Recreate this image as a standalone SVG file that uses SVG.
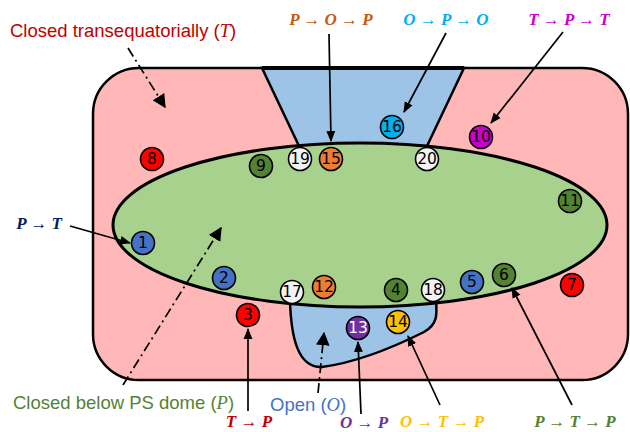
<svg xmlns="http://www.w3.org/2000/svg" width="630" height="432" viewBox="0 0 630 432">
<style>
.num{font-family:"DejaVu Sans",sans-serif;font-size:15.5px;text-anchor:middle;dominant-baseline:central;fill:#000}
.c{stroke:#000;stroke-width:1.6}
.lab{font-family:"Liberation Sans",Arial,sans-serif;font-size:18.5px}
.math{font-family:"Liberation Serif","Times New Roman",serif;font-size:17px;font-style:italic;font-weight:bold}
.mi{font-family:"Liberation Serif","Times New Roman",serif;font-style:italic}
.arr{stroke:#000;stroke-width:1.7;fill:none;marker-end:url(#ah)}
.dd{stroke:#000;stroke-width:1.7;fill:none;stroke-dasharray:10 4 2 4;marker-end:url(#ah2)}
</style>
<defs>
<marker id="ah" viewBox="0 0 10 10" refX="9" refY="5" markerWidth="6.5" markerHeight="6.5" orient="auto" markerUnits="strokeWidth">
<path d="M0,1 L10,5 L0,9 z" fill="#000"/>
</marker>
<marker id="ah2" viewBox="0 0 10 10" refX="9" refY="5" markerWidth="8" markerHeight="8" orient="auto" markerUnits="strokeWidth">
<path d="M0,0 L10,5 L0,10 z" fill="#000"/>
</marker>
</defs>
<g id="regions">
<rect id="closed-T" x="93" y="68" width="535" height="312" rx="46" ry="46" fill="#FFB7B7" stroke="#000" stroke-width="2.5"/>
<path id="open-top" d="M262,68 L464,68 L427,146 L299,146 Z" fill="#9DC3E6" stroke="#000" stroke-width="2.5"/>
<line x1="262" y1="68" x2="464" y2="68" stroke="#000" stroke-width="4"/>
<path id="open-bottom" d="M290,300 C291,338 298,368 322,367 C360,362 398,345 424,332 C438,324 437,314 436,300 Z" fill="#9DC3E6" stroke="#000" stroke-width="2.5"/>
<ellipse id="closed-P" cx="360" cy="225" rx="247" ry="82" fill="#A9D18E" stroke="#000" stroke-width="3"/>
</g>
<g id="connectors">
<line class="dd" x1="128" y1="48" x2="165" y2="107"/>
<line class="dd" x1="123" y1="385" x2="221" y2="228"/>
<line class="dd" x1="318" y1="393" x2="324" y2="333"/>
<line class="arr" x1="70" y1="226" x2="130" y2="243"/>
<line class="arr" x1="329" y1="34" x2="331" y2="141"/>
<line class="arr" x1="446" y1="33" x2="404" y2="112"/>
<line class="arr" x1="563" y1="32" x2="491" y2="123"/>
<line class="arr" x1="248" y1="411" x2="248" y2="329"/>
<line class="arr" x1="361" y1="414" x2="358" y2="342"/>
<line class="arr" x1="440" y1="405" x2="408" y2="336"/>
<line class="arr" x1="572" y1="405" x2="512" y2="288"/>
</g>
<g id="n1"><circle class="c" cx="143" cy="243" r="11.5" fill="#4472C4"/><text class="num" x="143" y="243">1</text></g>
<g id="n2"><circle class="c" cx="224" cy="278" r="11.5" fill="#4472C4"/><text class="num" x="224" y="278">2</text></g>
<g id="n3"><circle class="c" cx="248" cy="315" r="11.5" fill="#FF0000"/><text class="num" x="248" y="315">3</text></g>
<g id="n4"><circle class="c" cx="396" cy="290" r="11.5" fill="#548235"/><text class="num" x="396" y="290">4</text></g>
<g id="n5"><circle class="c" cx="472" cy="282" r="11.5" fill="#4472C4"/><text class="num" x="472" y="282">5</text></g>
<g id="n6"><circle class="c" cx="504" cy="275" r="11.5" fill="#548235"/><text class="num" x="504" y="275">6</text></g>
<g id="n7"><circle class="c" cx="572" cy="285" r="11.5" fill="#FF0000"/><text class="num" x="572" y="285">7</text></g>
<g id="n8"><circle class="c" cx="152" cy="159" r="11.5" fill="#FF0000"/><text class="num" x="152" y="159">8</text></g>
<g id="n9"><circle class="c" cx="261" cy="166" r="11.5" fill="#548235"/><text class="num" x="261" y="166">9</text></g>
<g id="n10"><circle class="c" cx="481" cy="137" r="11.5" fill="#CC00CC"/><text class="num" x="481" y="137">10</text></g>
<g id="n11"><circle class="c" cx="570" cy="201" r="11.5" fill="#548235"/><text class="num" x="570" y="201">11</text></g>
<g id="n12"><circle class="c" cx="324" cy="287" r="11.5" fill="#ED7D31"/><text class="num" x="324" y="287">12</text></g>
<g id="n13"><circle class="c" cx="358" cy="328" r="11.5" fill="#7030A0"/><text class="num" x="358" y="328" style="fill:#fff">13</text></g>
<g id="n14"><circle class="c" cx="398" cy="322" r="11.5" fill="#FFC000"/><text class="num" x="398" y="322">14</text></g>
<g id="n15"><circle class="c" cx="331" cy="159" r="11.5" fill="#ED7D31"/><text class="num" x="331" y="159">15</text></g>
<g id="n16"><circle class="c" cx="392" cy="127" r="11.5" fill="#00B0F0"/><text class="num" x="392" y="127">16</text></g>
<g id="n17"><circle class="c" cx="292" cy="292" r="11.5" fill="#F2F2F2"/><text class="num" x="292" y="292">17</text></g>
<g id="n18"><circle class="c" cx="433" cy="290" r="11.5" fill="#F2F2F2"/><text class="num" x="433" y="290">18</text></g>
<g id="n19"><circle class="c" cx="300" cy="159" r="11.5" fill="#F2F2F2"/><text class="num" x="300" y="159">19</text></g>
<g id="n20"><circle class="c" cx="427" cy="159" r="11.5" fill="#F2F2F2"/><text class="num" x="427" y="159">20</text></g>
<g id="labels">
<text class="lab" x="10" y="37" fill="#C00000">Closed transequatorially (<tspan class="mi">T</tspan>)</text>
<text class="lab" x="13" y="409" fill="#548235">Closed below PS dome (<tspan class="mi">P</tspan>)</text>
<text class="lab" x="270" y="411" fill="#4472C4">Open (<tspan class="mi">O</tspan>)</text>
<text class="math" x="364" y="428" text-anchor="middle" fill="#7030A0">O → P</text>
<text class="math" x="331" y="25" text-anchor="middle" fill="#C55A11">P → O → P</text>
<text class="math" x="446" y="25" text-anchor="middle" fill="#00B0F0">O → P → O</text>
<text class="math" x="569" y="25" text-anchor="middle" fill="#CC00CC">T → P → T</text>
<text class="math" x="39" y="229" text-anchor="middle" fill="#002060">P → T</text>
<text class="math" x="249" y="427" text-anchor="middle" fill="#C00000">T → P</text>
<text class="math" x="442" y="427" text-anchor="middle" fill="#FFC000">O → T → P</text>
<text class="math" x="575" y="427" text-anchor="middle" fill="#548235">P → T → P</text>
</g>
</svg>
